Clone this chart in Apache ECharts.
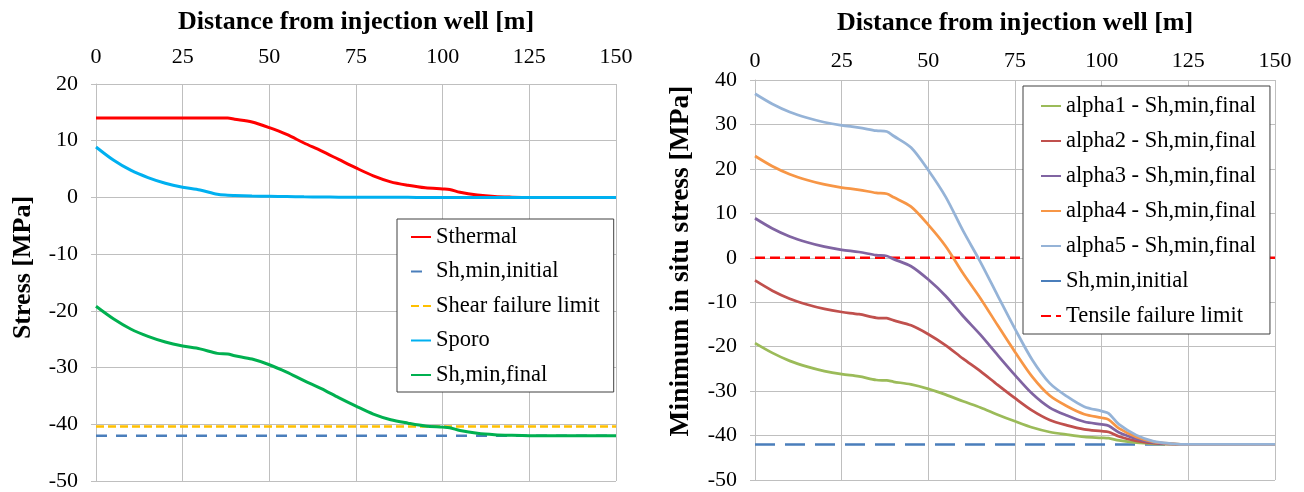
<!DOCTYPE html>
<html>
<head>
<meta charset="utf-8">
<script src="https://cdn.jsdelivr.net/npm/echarts@6/dist/echarts.min.js"></script>
<style>
html,body{margin:0;padding:0;background:#fff;}
#chart{width:1304px;height:492px;}
</style>
</head>
<body>
<div id="chart"></div>
<script>
// Distance from injection well [m]
const distance = [0,5,10,15,20,25,30,35,38,40,45,50,55,60,65,70,75,80,85,90,95,100,102,105,110,115,120,125,130,140,150];
// Left chart series [MPa]
const sThermal = [14,14,14,14,14,14,14,14,14,13.8,13.3,12.3,11.1,9.6,8.2,6.7,5.2,3.8,2.75,2.15,1.7,1.5,1.4,0.9,0.42,0.15,0.05,0,0,0,0];
const sPoro = [8.9,6.6,4.8,3.5,2.5,1.8,1.3,0.55,0.4,0.35,0.25,0.2,0.15,0.1,0.08,0.05,0.04,0.03,0.02,0.01,0,0,0,0,0,0,0,0,0,0,0];
const shMinFinal = [-19.2,-21.4,-23.2,-24.5,-25.5,-26.2,-26.7,-27.5,-27.6,-27.9,-28.5,-29.5,-30.8,-32.3,-33.7,-35.3,-36.8,-38.2,-39.2,-39.8,-40.3,-40.5,-40.6,-41.1,-41.6,-41.85,-41.95,-42,-42,-42,-42];
const shMinInitial = -42;
const shearLimit = -40.4;
// Right chart series [MPa]
const alpha1 = [-19.2,-21.4,-23.2,-24.5,-25.5,-26.2,-26.7,-27.5,-27.6,-27.9,-28.5,-29.5,-30.8,-32.3,-33.7,-35.3,-36.8,-38.2,-39.2,-39.8,-40.3,-40.5,-40.6,-41.1,-41.6,-41.85,-41.95,-42,-42,-42,-42];
const alpha2 = [-5.1,-7.4,-9.2,-10.5,-11.5,-12.2,-12.7,-13.5,-13.6,-14.1,-15.2,-17.2,-19.7,-22.7,-25.5,-28.6,-31.6,-34.4,-36.5,-37.7,-38.6,-39.0,-39.2,-40.2,-41.2,-41.7,-41.9,-42,-42,-42,-42];
const alpha3 = [8.9,6.6,4.8,3.5,2.5,1.8,1.3,0.6,0.4,-0.3,-1.9,-4.9,-8.6,-13.1,-17.3,-21.9,-26.4,-30.6,-33.7,-35.5,-36.9,-37.5,-37.8,-39.3,-40.7,-41.6,-41.9,-42,-42,-42,-42];
const alpha4 = [22.9,20.6,18.8,17.5,16.5,15.8,15.3,14.6,14.4,13.6,11.5,7.4,2.6,-3.5,-9.1,-15.2,-21.2,-26.8,-31.0,-33.4,-35.2,-36.0,-36.4,-38.4,-40.3,-41.4,-41.8,-42,-42,-42,-42];
const alpha5 = [36.9,34.6,32.8,31.5,30.5,29.8,29.3,28.6,28.4,27.4,24.8,19.7,13.7,6.1,-0.9,-8.5,-16.0,-23.0,-28.2,-31.2,-33.5,-34.5,-35.0,-37.5,-39.9,-41.3,-41.8,-42,-42,-42,-42];
const tensileLimit = 0;
const xRange = [0,150];
const xTitle = 'Distance from injection well [m]';
const leftYTitle = 'Stress [MPa]';
const rightYTitle = 'Minimum in situ stress [MPa]';

const pairs = arr => distance.map((d,i)=>[d,arr[i]]);
const flat = v => xRange.map(d=>[d,v]);

const FONT = '"Liberation Serif","Times New Roman",serif';
const GRID_C = '#bfbfbf';

function xAx(gi, gap, margin){
  return {gridIndex:gi,type:'value',position:'top',min:0,max:150,interval:25,
    name:xTitle,nameLocation:'middle',nameGap:gap,
    nameTextStyle:{fontFamily:FONT,fontWeight:'bold',fontSize:26,color:'#000'},
    axisLabel:{fontFamily:FONT,fontSize:22,color:'#000',margin:margin},
    axisLine:{show:true,lineStyle:{color:GRID_C}},
    axisTick:{show:false},
    splitLine:{show:true,lineStyle:{color:GRID_C,width:1}}};
}
function yAx(gi,min,max,name,gap,size,shift){
  return {gridIndex:gi,type:'value',min:min,max:max,interval:10,
    name:name,nameLocation:'middle',nameGap:gap,
    nameTextStyle:{fontFamily:FONT,fontWeight:'bold',fontSize:size,color:'#000',padding:[0,0,0,shift]},
    axisLabel:{fontFamily:FONT,fontSize:22,color:'#000',margin:18},
    axisLine:{show:true,lineStyle:{color:GRID_C}},
    axisTick:{show:true,length:5,lineStyle:{color:GRID_C}},
    splitLine:{show:true,lineStyle:{color:GRID_C,width:1}}};
}
function line(name, data, color, gi, width, dash, smooth){
  return {name:name,type:'line',xAxisIndex:gi,yAxisIndex:gi,data:data,
    symbol:'none',showSymbol:false,smooth:smooth?0.3:false,
    lineStyle:{color:color,width:width,type:dash||'solid'},itemStyle:{color:color},
    emphasis:{disabled:true},z:2};
}
const legendText = {fontFamily:FONT,fontSize:22.5,color:'#000',lineHeight:24};

const chart = echarts.init(document.getElementById('chart'),null,{renderer:'canvas'});
chart.setOption({
  animation:false,
  backgroundColor:'#fff',
  grid:[{left:96,top:84,width:520,height:397},{left:755,top:80,width:520,height:400}],
  xAxis:[xAx(0,49,16),xAx(1,44,8)],
  yAxis:[yAx(0,-50,20,leftYTitle,60,26,30),yAx(1,-50,40,rightYTitle,60,27.5,38)],
  legend:[
    {orient:'vertical',left:397,top:219,itemWidth:20,itemHeight:2,itemGap:10.5,
     padding:[6,14,5,13],borderColor:'#404040',borderWidth:1,backgroundColor:'#fff',
     itemStyle:{opacity:0},textStyle:legendText,
     data:['Sthermal','Sh,min,initial','Shear failure limit','Sporo','Sh,min,final']},
    {orient:'vertical',left:1023,top:86,itemWidth:20,itemHeight:2,itemGap:11,
     padding:[8,14,6,17],borderColor:'#404040',borderWidth:1,backgroundColor:'#fff',
     itemStyle:{opacity:0},textStyle:legendText,
     data:['alpha1 - Sh,min,final','alpha2 - Sh,min,final','alpha3 - Sh,min,final','alpha4 - Sh,min,final','alpha5 - Sh,min,final','Sh,min,initial ','Tensile failure limit']}
  ],
  series:[
    line('Sh,min,initial',flat(shMinInitial),'#4a7ebb',0,2.5,[11,9]),
    line('Shear failure limit',flat(shearLimit),'#ffc000',0,2.5,[8,4]),
    line('Sthermal',pairs(sThermal),'#ff0000',0,3,null,true),
    line('Sporo',pairs(sPoro),'#00b0f0',0,3,null,true),
    line('Sh,min,final',pairs(shMinFinal),'#00b050',0,3,null,true),
    line('Sh,min,initial ',flat(shMinInitial),'#4a7ebb',1,2.5,[20,10]),
    line('Tensile failure limit',flat(tensileLimit),'#ff0000',1,2.5,[10,5]),
    line('alpha1 - Sh,min,final',pairs(alpha1),'#9bbb59',1,2.75,null,true),
    line('alpha2 - Sh,min,final',pairs(alpha2),'#c0504d',1,2.75,null,true),
    line('alpha3 - Sh,min,final',pairs(alpha3),'#8064a2',1,2.75,null,true),
    line('alpha4 - Sh,min,final',pairs(alpha4),'#f79646',1,2.75,null,true),
    line('alpha5 - Sh,min,final',pairs(alpha5),'#95b3d7',1,2.75,null,true)
  ]
});
</script>
</body>
</html>
